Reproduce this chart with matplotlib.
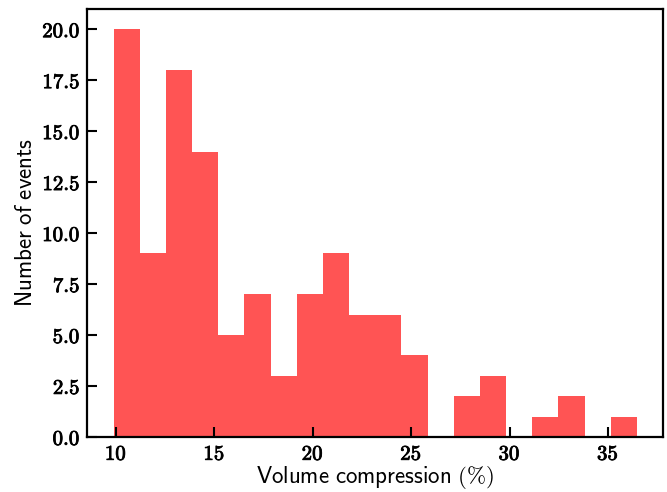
import numpy as np
import matplotlib
matplotlib.use("Agg")
import matplotlib.pyplot as plt
import matplotlib.patheffects as pe
from matplotlib.ticker import FuncFormatter

plt.rcParams['mathtext.fontset'] = 'cm'

# histogram --------------------------------------------------------------------
bin_lo = 9.88
bin_hi = 36.47
n_bins = 20
counts = [20, 9, 18, 14, 5, 7, 3, 7, 9, 6, 6, 4, 0, 2, 3, 0, 1, 2, 0, 1]

edges = np.linspace(bin_lo, bin_hi, n_bins + 1)

fig = plt.figure(figsize=(6.67, 4.92), dpi=100)
ax = fig.add_axes([0.131, 0.112, 0.863, 0.870])

ax.hist(edges[:-1], bins=edges, weights=counts, color='red', alpha=0.67)

ax.set_xlabel(r'$\mathsf{Volume\ compression\ (\%)}$', fontsize=16.5, labelpad=0)
ax.set_ylabel(r'$\mathsf{Number\ of\ events}$', fontsize=16.5, labelpad=4)

ax.set_yticks([0, 2.5, 5, 7.5, 10, 12.5, 15, 17.5, 20])
ax.set_xticks([10, 15, 20, 25, 30, 35])
ax.yaxis.set_major_formatter(FuncFormatter(lambda v, p: r'$\mathbf{%.1f}$' % v))
ax.xaxis.set_major_formatter(FuncFormatter(lambda v, p: r'$\mathbf{%d}$' % v))
ax.tick_params(direction='in', length=7, width=1.5, labelsize=15, pad=5)
for lab in ax.get_xticklabels() + ax.get_yticklabels():
    lab.set_path_effects([pe.withStroke(linewidth=0.6, foreground='black')])
for s in ax.spines.values():
    s.set_linewidth(1.6)

fig.savefig('out.png', dpi=100)
